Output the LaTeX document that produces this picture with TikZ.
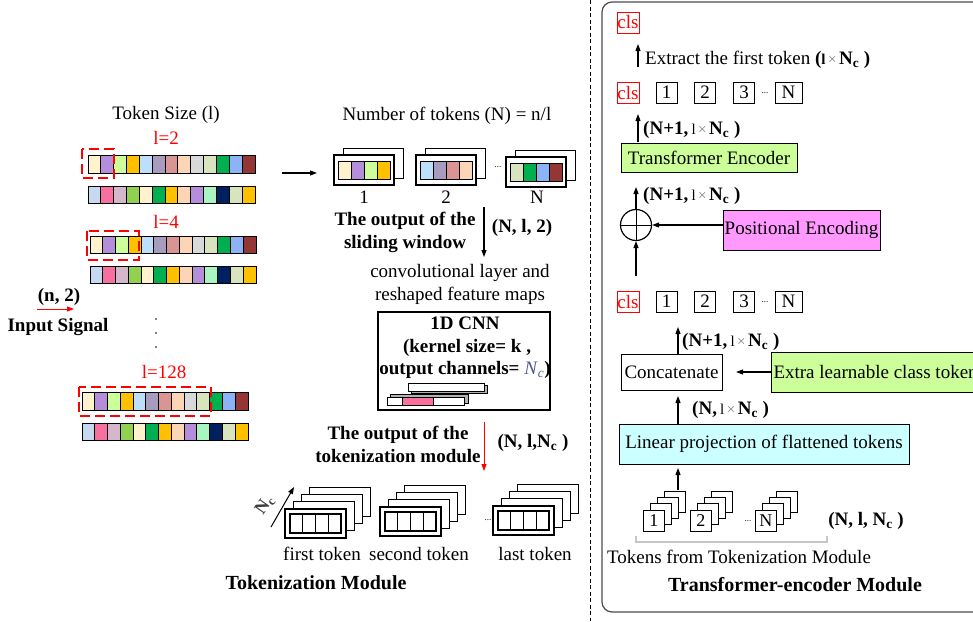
\documentclass[tikz,border=0pt]{standalone}
\usepackage{fontspec}
\setmainfont{Liberation Serif}
\usetikzlibrary{arrows.meta}
\definecolor{tyel}{HTML}{FFF2CC}
\definecolor{tpur}{HTML}{B48EDB}
\definecolor{tlgr}{HTML}{CCFF99}
\definecolor{tgold}{HTML}{FFC000}
\definecolor{tlblu}{HTML}{BDDFFA}
\definecolor{tgpur}{HTML}{A79BBE}
\definecolor{trose}{HTML}{D99594}
\definecolor{tpeach}{HTML}{FBD5B5}
\definecolor{tlgray}{HTML}{D9D9D9}
\definecolor{tpgr}{HTML}{D7E4BD}
\definecolor{tgreen}{HTML}{00B050}
\definecolor{tcorn}{HTML}{8DB3F7}
\definecolor{tbrown}{HTML}{943634}
\definecolor{tsteel}{HTML}{C6D9F0}
\definecolor{tpink}{HTML}{F7709F}
\definecolor{tmauve}{HTML}{D5B7CB}
\definecolor{tygr}{HTML}{92D050}
\definecolor{tmint}{HTML}{A9F5C2}
\definecolor{tnavy}{HTML}{002060}
\definecolor{pemag}{HTML}{FF99FF}
\definecolor{lincyan}{HTML}{CCFFFF}
\definecolor{ncblue}{HTML}{4A5A8C}

\newcommand{\tokbar}[5]{%
  \foreach \cc [count=\ii] in {#5} {\filldraw[fill=\cc, draw=black, line width=1pt] ({#1+(\ii-1)*#3},#2) rectangle ++(#3,#4);}}
\newcommand{\tokgroup}[6]{%
  \filldraw[fill=white, draw=black, line width=1pt] ({#1+9},{#2-7}) rectangle ++(60,30);
  \filldraw[fill=white, draw=black, line width=1.2pt] (#1,#2) rectangle ++(60,30);
  \foreach \cc [count=\ii] in {#3,#4,#5,#6} {\filldraw[fill=\cc, draw=black, line width=1pt] ({#1+4+(\ii-1)*13},{#2+6}) rectangle ++(13,18);}}
\newcommand{\stackfour}[2]{%
  \foreach \k in {3,2,1} {\filldraw[fill=white, draw=black, line width=1pt] ({#1+\k*8.3},{#2-\k*7.3}) rectangle ++(61,29);}
  \filldraw[fill=white, draw=black, line width=1.2pt] (#1,#2) rectangle ++(61,29);
  \foreach \ii in {0,1,2,3} {\draw[line width=1.3pt] ({#1+5+\ii*12.75},{#2+5}) rectangle ++(12.75,19);}}
\newcommand{\ministack}[4]{%
  \foreach \k in {3,2,1} {\filldraw[fill=white, draw=black, line width=0.9pt] ({#1+\k*7.3},{#2-\k*6.3}) rectangle ++(21,21);}
  \node[draw, fill=white, line width=0.9pt, minimum width=21pt, minimum height=21pt, inner sep=0pt, anchor=north west, font=\fontsize{18}{18}\selectfont] (#4) at (#1,#2) {#3};}
\newcommand{\nlab}[1]{\textbf{(#1,}\,{\fontsize{15}{15}\selectfont l\,{\color{gray}×}\,}\textbf{N\textsubscript{c}}\textbf{~)}}

\begin{document}
\begin{tikzpicture}[x=1pt,y=-1pt,
  txt/.style={inner sep=0pt, font=\fontsize{19}{23}\selectfont},
  btxt/.style={inner sep=0pt, font=\fontsize{19}{23}\selectfont\bfseries},
  ttl/.style={inner sep=0pt, font=\fontsize{20}{24}\selectfont\bfseries},
  redtxt/.style={txt, text=red},
  tiny/.style={inner sep=0pt, font=\fontsize{9}{9}\selectfont},
  arr/.style={line width=1.1pt, -{Triangle[length=7pt,width=5pt]}},
  dashbox/.style={draw=red, line width=2.6pt, dash pattern=on 10pt off 5pt},
  clsbox/.style={draw=red, text=red, line width=0.8pt, inner sep=0pt, minimum width=22pt, minimum height=21pt, font=\fontsize{19}{19}\selectfont},
  numbox/.style={draw=black, line width=1pt, inner sep=0pt, minimum width=21pt, minimum height=21pt, font=\fontsize{19}{19}\selectfont},
  blk/.style={draw=black, line width=1pt, inner sep=0pt, font=\fontsize{19}{23}\selectfont}]
\clip (0,0) rectangle (973,621);
\fill[white] (0,0) rectangle (973,621);

% ---------------- left: input signal bars
\node[txt] (tsize) at (166,115) {Token Size (l)};
\node[redtxt] (l2) at (166,138) {l=2};
\tokbar{88}{155}{12.85}{18}{tyel,tpur,tlgr,tgold,tlblu,tgpur,trose,tpeach,tlgray,tpgr,tgreen,tcorn,tbrown}
\tokbar{88}{186}{12.85}{17}{tsteel,tpink,tmauve,tygr,tyel,tgreen,tgold,tpeach,tpur,tmint,tnavy,tpgr,tgold}
\draw[dashbox] (82,149) rectangle (114,178);
\node[redtxt] (l4) at (166,222) {l=4};
\tokbar{90}{236}{12.77}{17}{tyel,tpur,tlgr,tgold,tlblu,tgpur,trose,tpeach,tlgray,tpgr,tgreen,tcorn,tbrown}
\tokbar{90}{266}{12.77}{17}{tsteel,tpink,tmauve,tygr,tyel,tgreen,tgold,tpeach,tpur,tmint,tnavy,tpgr,tgold}
\draw[dashbox] (87,231) rectangle (139,260);
\node[btxt] (n2) at (59,297) {(n, 2)};
\coordinate (ina) at (37,309);
\coordinate (inb) at (74,309);
\draw[arr, red, line width=0.9pt] (ina) -- (inb);
\node[btxt] (insig) at (58,327) {Input Signal};
\foreach \yy in {319,333,347} {\fill (156,\yy) circle (0.8);}
\node[redtxt] (l128) at (164,372) {l=128};
\tokbar{82}{392}{12.77}{18}{tyel,tpur,tlgr,tgold,tlblu,tgpur,trose,tpeach,tlgray,tpgr,tgreen,tcorn,tbrown}
\tokbar{82}{423}{12.77}{17}{tsteel,tpink,tmauve,tygr,tyel,tgreen,tgold,tpeach,tpur,tmint,tnavy,tpgr,tgold}
\draw[dashbox] (79,387) rectangle (211,416);

% ---------------- sliding window output
\coordinate (sa) at (282,173);
\coordinate (sb) at (317,173);
\draw[arr] (sa) -- (sb);
\node[txt] (ntok) at (447,116) {Number of tokens (N) = n/l};
\tokgroup{334}{155}{tyel}{tpur}{tlgr}{tgold}
\tokgroup{416}{155}{tlblu}{tgpur}{trose}{tpeach}
\tokgroup{506}{157}{tpgr}{tgreen}{tcorn}{tbrown}
\node[tiny] (gdots) at (498,167) {...};
\node[txt] (g1l) at (364,197) {1};
\node[txt] (g2l) at (446,197) {2};
\node[txt] (gNl) at (537,197) {N};
\node[btxt, align=center] (sw) at (405,232) {The output of the\\sliding window};
\coordinate (swa) at (484,207);
\coordinate (swb) at (484,257);
\draw[arr] (swa) -- (swb);
\node[btxt] (nl2) at (522,228) {(N, l, 2)};
\node[txt, align=center] (conv) at (460,284) {convolutional layer and\\reshaped feature maps};

% ---------------- CNN box
\node[draw, line width=1.2pt, minimum width=172pt, minimum height=98pt, inner sep=0pt] (cnn) at (464,361) {};
\node[btxt] (cnn1) at (465,323) {1D CNN};
\node[btxt] (cnn2) at (467,348) {(kernel size= k ,};
\node[btxt] (cnn3) at (465,370) {output channels= {\mdseries\color{ncblue}\textit{N}\textsubscript{\textit{c}}})};
\filldraw[fill=gray!60, draw=black, line width=0.5pt] (411,385) rectangle (487,393);
\filldraw[fill=white, draw=black, line width=0.8pt] (408,383) rectangle (484,391);
\filldraw[fill=gray!60, draw=black, line width=0.5pt] (390,394) rectangle (468,403);
\filldraw[fill=white, draw=black, line width=0.8pt] (387,397) rectangle (464,405);
\filldraw[fill=tpink, draw=black, line width=0.8pt] (402,397) rectangle (433,405);

% ---------------- tokenization output
\node[btxt, align=center] (tmo) at (398,444) {The output of the\\tokenization module};
\coordinate (tma) at (484,422);
\coordinate (tmb) at (484,471);
\draw[arr, red, line width=0.9pt] (tma) -- (tmb);
\node[btxt] (nlnc) at (533,443) {(N, l,N\textsubscript{c} )};
\stackfour{285}{509}
\stackfour{380}{507}
\stackfour{493}{506}
\coordinate (nea) at (271,527);
\coordinate (neb) at (294,487);
\draw[arr, line width=1pt] (nea) -- (neb);
\node[inner sep=0pt, font=\fontsize{18}{18}\selectfont\bfseries, text=black!75, rotate=55] (nelab) at (265,505) {N\textsubscript{c}};
\node[tiny] (sdots) at (488,520) {...};
\node[txt] (ft) at (322,554) {first token};
\node[txt] (st) at (419,554) {second token};
\node[txt] (lt) at (535,554) {last token};
\node[ttl] (tokmod) at (316,583) {Tokenization Module};

% ---------------- separator and right panel
\coordinate (sept) at (590,0);
\coordinate (sepb) at (590,621);
\draw[line width=1pt, dash pattern=on 4pt off 2.5pt] (sept) -- (sepb);
\draw[rounded corners=10pt, draw=black!70, line width=1.2pt] (602,2) rectangle (1010,612);

\node[clsbox] (cls0) at (628,22.5) {cls};
\coordinate (exa) at (638,67);
\coordinate (exb) at (638,44);
\draw[arr] (exa) -- (exb);
\node[txt, anchor=west] (extract) at (645,60) {Extract the first token \textbf{(}{\fontsize{15}{15}\selectfont\bfseries l\,\mdseries{\color{gray}×}\,}\textbf{N\textsubscript{c}}\textbf{~)}};

\node[clsbox] (cls1) at (628,92.5) {cls};
\node[numbox] (a1) at (666.5,92.5) {1};
\node[numbox] (a2) at (705,92.5) {2};
\node[numbox] (a3) at (744,92.5) {3};
\node[tiny] (adots) at (765,93) {...};
\node[numbox, minimum width=27pt] (aN) at (788.5,92.5) {N};

\coordinate (tea) at (638,142);
\coordinate (teb) at (638,114);
\draw[arr] (tea) -- (teb);
\node[txt, anchor=west] (lab1) at (643,130) {\nlab{N+1}};
\node[blk, fill=tlgr, minimum width=176pt, minimum height=29pt] (te) at (709,157.5) {Transformer Encoder};

\node[circle, draw, line width=1.2pt, minimum size=31pt, inner sep=0pt] (op) at (636,225) {};
\draw[line width=1pt] (op.north) -- (op.south) (op.west) -- (op.east);
\coordinate (opt) at (636,187);
\draw[arr] (op.north) -- (opt);
\node[txt, anchor=west] (lab2) at (643,196) {\nlab{N+1}};
\node[blk, fill=pemag, minimum width=157pt, minimum height=40pt] (pe) at (801.5,230) {Positional Encoding};
\draw[arr] (pe.west |- op.east) -- (op.east);
\coordinate (opin) at (636,276);
\draw[arr] (opin) -- (op.south);

\node[clsbox] (cls2) at (628,301.5) {cls};
\node[numbox] (b1) at (666.5,301.5) {1};
\node[numbox] (b2) at (705,301.5) {2};
\node[numbox] (b3) at (744,301.5) {3};
\node[tiny] (bdots) at (765,302) {...};
\node[numbox, minimum width=27pt] (bN) at (788.5,301.5) {N};

\node[blk, minimum width=101pt, minimum height=36pt] (cat) at (671.5,372) {Concatenate};
\coordinate (cata) at (678,354);
\coordinate (catb) at (678,327);
\draw[arr] (cata) -- (catb);
\node[txt, anchor=west] (lab3) at (682,342) {\nlab{N+1}};
\node[blk, fill=tlgr, minimum height=40pt, inner xsep=2pt, anchor=west] (extra) at (771,372) {Extra learnable class token\hspace{25pt}};
\coordinate (exend) at (736,372);
\draw[arr] (extra.west) -- (exend);

\node[blk, fill=lincyan, minimum width=290pt, minimum height=40pt] (lin) at (764,444) {Linear projection of flattened tokens};
\coordinate (lina) at (678,424);
\coordinate (linb) at (678,396);
\draw[arr] (lina) -- (linb);
\node[txt, anchor=west] (lab4) at (692,410) {\textbf{(N,}\,{\fontsize{15}{15}\selectfont l\,{\color{gray}×}\,}\textbf{N\textsubscript{c}}\textbf{~)}};
\coordinate (tka) at (678,490);
\coordinate (tkb) at (678,468);
\draw[arr] (tka) -- (tkb);

\ministack{643}{510}{1}{m1}
\ministack{690}{510}{2}{m2}
\ministack{755}{510}{N}{mN}
\node[tiny] (mdots) at (748,521) {...};
\node[btxt] (nlnc2) at (866,521) {(N, l, N\textsubscript{c} )};
\draw[gray!45, line width=1.2pt] (636,536) -- (636,542) -- (827,542) -- (827,536);
\node[txt] (tfrom) at (739,557) {Tokens from Tokenization Module};
\node[ttl] (trmod) at (795,585) {Transformer-encoder Module};
\end{tikzpicture}
\end{document}
